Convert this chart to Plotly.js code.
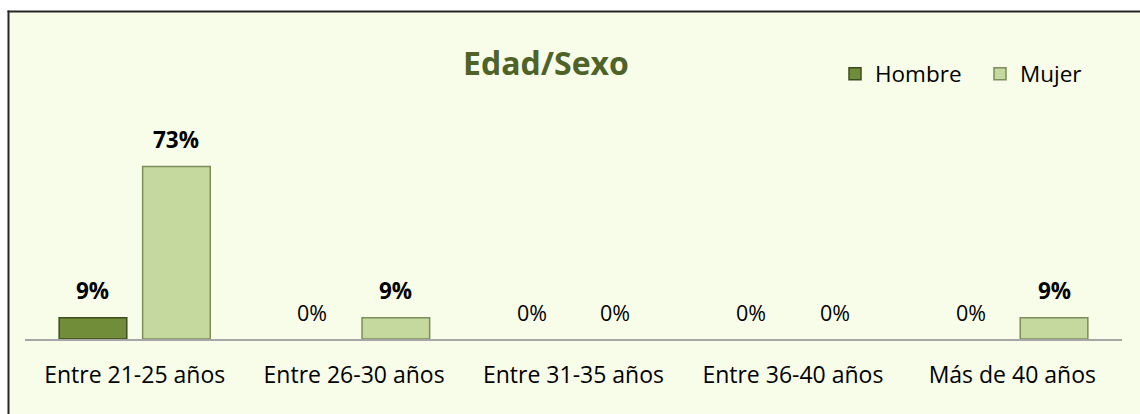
<!DOCTYPE html>
<html>
<head>
<meta charset="utf-8">
<script src="https://cdn.plot.ly/plotly-3.0.1.min.js"></script>
<style>
  html, body { margin: 0; padding: 0; background: #ffffff; overflow: hidden; }
  #chart { width: 1140px; height: 414px; }
</style>
</head>
<body>
<div id="chart"></div>
<script>
// ---- data ----
const categories = ["Entre 21-25 años", "Entre 26-30 años", "Entre 31-35 años", "Entre 36-40 años", "Más de 40 años"];
const seriesNames = ["Hombre", "Mujer"];
const hombre = [0.09, 0, 0, 0, 0];
const mujer = [0.73, 0.09, 0, 0, 0.09];
const chartTitle = "Edad/Sexo";

// ---- styling ----
const FONT = "Open Sans, Noto Sans, Liberation Sans, sans-serif";
const fills = ["#718d39", "#c5d89d"];
const edges = ["#3d4c1c", "#7d8d5c"];
const seriesValues = [hombre, mujer];

const L = 25, R = 18, T = 150, B = 75;
const W = 1140, H = 414;
const plotW = W - L - R, plotH = H - T - B;
const slot = 83.5; // px distance between bar centers inside a group

const traces = seriesValues.map((vals, i) => ({
  type: "bar",
  name: seriesNames[i],
  x: categories,
  y: vals,
  marker: {
    color: fills[i],
    line: { color: edges[i], width: vals.map(v => v > 0 ? 1.5 : 0) }
  },
  hoverinfo: "skip"
}));

const annotations = [];
seriesValues.forEach((vals, i) => {
  vals.forEach((v, j) => {
    annotations.push({
      x: categories[j], y: v, xref: "x", yref: "y",
      text: Math.round(v * 100) + "%",
      showarrow: false,
      xshift: (i === 0 ? -1 : 1) * slot / 2,
      yshift: 27,
      yanchor: "middle",
      font: { family: FONT, size: v > 0 ? 22.5 : 21.5, color: "#000000", weight: v > 0 ? "bold" : "normal" }
    });
  });
});

const px2x = p => (p - L) / plotW;
const px2y = p => (H - B - p) / plotH;

const layout = {
  width: W, height: H,
  margin: { l: L, r: R, t: T, b: B, pad: 0 },
  paper_bgcolor: "#ffffff",
  plot_bgcolor: "rgba(0,0,0,0)",
  barmode: "group",
  bargap: 0.239,
  bargroupgap: 0.19,
  showlegend: true,
  title: {
    text: chartTitle,
    x: 546 / W, xref: "container", xanchor: "center",
    y: 1 - 64 / H, yref: "container", yanchor: "middle",
    font: { family: FONT, size: 32, color: "#4f6228", weight: "bold" }
  },
  legend: {
    orientation: "h",
    x: px2x(835), y: px2y(74), xanchor: "left", yanchor: "middle",
    xref: "paper", yref: "paper",
    font: { family: FONT, size: 22.5, color: "#000000" },
    bgcolor: "rgba(0,0,0,0)",
    itemwidth: 30,
    entrywidth: 100,
    tracegroupgap: 0,
    traceorder: "normal"
  },
  xaxis: {
    type: "category",
    showgrid: false, zeroline: false,
    showline: true, linecolor: "#a6a6a6", linewidth: 2,
    ticks: "", ticklabelstandoff: 14,
    tickfont: { family: FONT, size: 23, color: "#000000" },
    fixedrange: true
  },
  yaxis: {
    range: [0, 0.8],
    visible: false, showgrid: false, zeroline: false,
    fixedrange: true
  },
  shapes: [
    {
      type: "rect", xref: "paper", yref: "paper", layer: "below",
      x0: px2x(8.5), x1: px2x(1140), y0: px2y(414), y1: px2y(11.5),
      fillcolor: "#f8fde9", line: { width: 0 }
    },
    {
      type: "line", xref: "paper", yref: "paper", layer: "below",
      x0: px2x(7.5), x1: px2x(1140), y0: px2y(11.5), y1: px2y(11.5),
      line: { color: "#262626", width: 2 }
    },
    {
      type: "line", xref: "paper", yref: "paper", layer: "below",
      x0: px2x(8.5), x1: px2x(8.5), y0: px2y(10.5), y1: px2y(414),
      line: { color: "#262626", width: 2 }
    }
  ],
  annotations: annotations
};

Plotly.newPlot("chart", traces, layout, { displayModeBar: false, staticPlot: true });
</script>
</body>
</html>
